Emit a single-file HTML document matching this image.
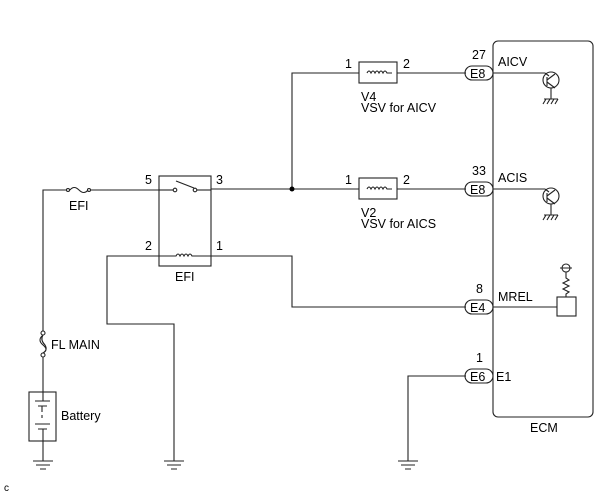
<!DOCTYPE html>
<html><head><style>
body{margin:0;background:#fff}
svg text{font-family:"Liberation Sans",sans-serif;font-size:12.5px;fill:#000}
</style></head><body>
<svg width="605" height="493" viewBox="0 0 605 493" xmlns="http://www.w3.org/2000/svg">
<g stroke="#222" stroke-width="1.1" fill="none">
<rect x="493" y="41" width="100" height="376" rx="5"/>
<polyline points="292,189 292,73 359,73"/>
<line x1="397" y1="73" x2="466" y2="73"/>
<rect x="359" y="62" width="38" height="21"/>
<path d="M367,73 q2,-4 4,0 q2,-4 4,0 q2,-4 4,0 q2,-4 4,0 q2,-4 4,0 h5"/>
<line x1="211" y1="189" x2="359" y2="189"/>
<line x1="397" y1="189" x2="466" y2="189"/>
<rect x="359" y="178" width="38" height="21"/>
<path d="M367,189 q2,-4 4,0 q2,-4 4,0 q2,-4 4,0 q2,-4 4,0 q2,-4 4,0 h5"/>
<rect x="465" y="66" width="28" height="14" rx="7"/>
<rect x="465" y="182" width="28" height="14" rx="7"/>
<rect x="465" y="300" width="28" height="14" rx="7"/>
<rect x="465" y="369" width="28" height="14" rx="7"/>
<line x1="493" y1="73" x2="545" y2="73"/>
<circle cx="551" cy="80" r="8"/>
<path d="M545,73 L549,76 M547,77 L547,86 M547,80 L555,74 M547,82 L555,88 M551,88 V99 M544,99 H558 M546,99 l-3,5 M550,99 l-3,5 M554,99 l-3,5 M558,99 l-3,5"/>
<line x1="493" y1="189" x2="545" y2="189"/>
<circle cx="551" cy="196" r="8"/>
<path d="M545,189 L549,192 M547,193 L547,202 M547,196 L555,190 M547,198 L555,204 M551,204 V215 M544,215 H558 M546,215 l-3,5 M550,215 l-3,5 M554,215 l-3,5 M558,215 l-3,5"/>
<polyline points="211,256 292,256 292,307 466,307"/>
<line x1="493" y1="307" x2="557" y2="307"/>
<rect x="557" y="297" width="19" height="19"/>
<circle cx="566" cy="268" r="4"/>
<path d="M560,268 H572 M566,272 V278 l3,2 -6,3 6,3 -6,3 6,3 -3,2 V297"/>
<polyline points="466,376 408,376 408,461"/>
<path d="M398,461 H418 M401,465 H415 M405,469 H411"/>
<polyline points="159,190 43,190 43,333"/>
<line x1="67" y1="190" x2="90" y2="190" stroke="#fff" stroke-width="3"/>
<circle cx="68" cy="190" r="1.5" fill="#fff"/>
<circle cx="89" cy="190" r="1.5" fill="#fff"/>
<path d="M70,190 q4,-5 9,0 q5,5 9,0"/>
<circle cx="43" cy="333" r="2" fill="#fff"/>
<circle cx="43" cy="355" r="2" fill="#fff"/>
<path d="M43,335 q-6,5 0,10 q6,5 0,8 M43,335 q-3,5 2,10 q3,5 -2,8"/>
<line x1="43" y1="357" x2="43" y2="392"/>
<rect x="29" y="392" width="27" height="49"/>
<path d="M35,401 H50 M38,406 H47 M42,406 V412 M42,415 V418 M35,424 H50 M38,429 H47 M43,392 V401 M43,429 V441"/>
<line x1="43" y1="441" x2="43" y2="461"/>
<path d="M33,461 H53 M36,465 H50 M40,469 H46"/>
<rect x="159" y="176" width="52" height="90"/>
<circle cx="175" cy="190" r="1.8"/>
<circle cx="195" cy="190" r="1.8"/>
<line x1="176" y1="181" x2="194" y2="188"/>
<line x1="159" y1="190" x2="173" y2="190"/>
<line x1="197" y1="190" x2="211" y2="190"/>
<path d="M159,256 H176 q2,-4 4,0 q2,-4 4,0 q2,-4 4,0 q2,-4 4,0 H211"/>
<polyline points="159,256 107,256 107,324 174,324 174,461"/>
<path d="M164,461 H184 M167,465 H181 M171,469 H177"/>
</g>
<circle cx="292" cy="189" r="2.5" fill="#000"/>
<text x="345" y="68">1</text><text x="403" y="68">2</text>
<text x="345" y="184">1</text><text x="403" y="184">2</text>
<text x="361" y="101">V4</text><text x="361" y="112">VSV for AICV</text>
<text x="361" y="217">V2</text><text x="361" y="228">VSV for AICS</text>
<text x="472" y="59">27</text><text x="472" y="175">33</text><text x="476" y="293">8</text><text x="476" y="362">1</text>
<text x="470" y="78">E8</text><text x="470" y="194">E8</text><text x="470" y="312">E4</text><text x="470" y="381">E6</text>
<text x="498" y="66">AICV</text><text x="498" y="182">ACIS</text><text x="498" y="301">MREL</text><text x="496" y="381">E1</text>
<text x="530" y="432">ECM</text>
<text x="145" y="184">5</text><text x="216" y="184">3</text>
<text x="145" y="250">2</text><text x="216" y="250">1</text>
<text x="175" y="281">EFI</text>
<text x="69" y="210">EFI</text>
<text x="51" y="349">FL MAIN</text>
<text x="61" y="420">Battery</text>
<text x="4" y="491" style="font-size:10px">c</text>
</svg>
</body></html>
